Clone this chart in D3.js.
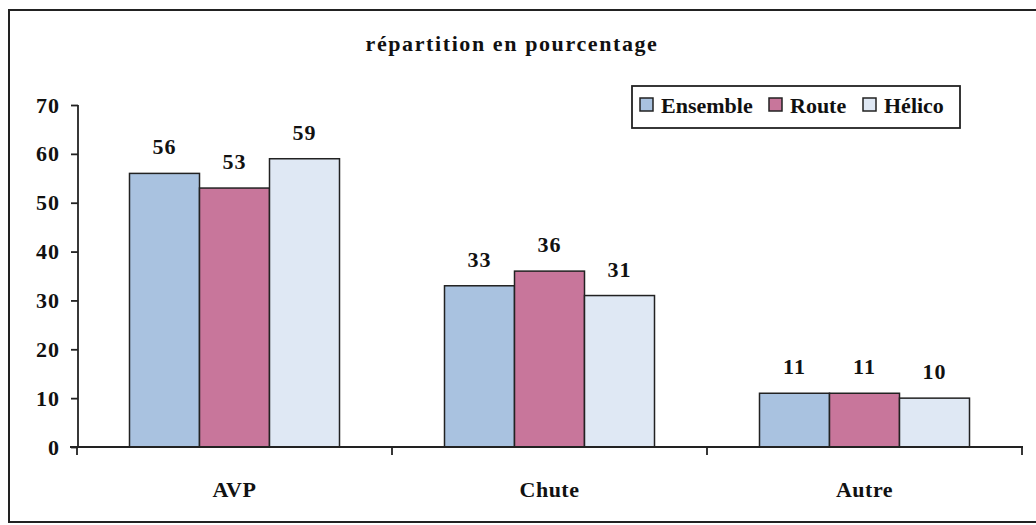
<!DOCTYPE html>
<html><head><meta charset="utf-8">
<script src="https://cdn.jsdelivr.net/npm/d3@7"></script>
<style>body{margin:0;background:#fff}svg{display:block}</style>
</head><body><svg id="c" width="1036" height="525"></svg>
<script>
const categories = ["AVP", "Chute", "Autre"];
const seriesNames = ["Ensemble", "Route", "Hélico"];
const ensemble = [56, 33, 11];
const route = [53, 36, 11];
const helico = [59, 31, 10];
const yTicks = [0, 10, 20, 30, 40, 50, 60, 70];
const colors = ["#a9c2e0", "#c8769b", "#dfe8f4"];
const title = "répartition en pourcentage";
const FONT = "Liberation Serif";

const svg = d3.select("#c");
function txt(sel) {
  return sel.attr("font-family", FONT).attr("font-weight", "bold").attr("fill", "#111");
}
// outer frame
svg.append("rect").attr("x", 9).attr("y", 10).attr("width", 1040).attr("height", 512)
  .attr("fill", "none").attr("stroke", "#222").attr("stroke-width", 2);

const x0 = d3.scaleBand().domain(categories).range([77, 1022]).paddingInner(0).paddingOuter(0);
const x1 = d3.scaleBand().domain(seriesNames).range([0, x0.bandwidth()]).paddingOuter(0.75).paddingInner(0);
const y = d3.scaleLinear().domain([0, 70]).range([447, 105]);

txt(svg.append("text")).attr("x", 512).attr("y", 51).attr("text-anchor", "middle")
  .attr("font-size", 22).attr("letter-spacing", "1.6px").text(title);

const data = [ensemble, route, helico];
categories.forEach((c, ci) => {
  const g = svg.append("g");
  seriesNames.forEach((s, si) => {
    const v = data[si][ci];
    g.append("rect").attr("x", x0(c) + x1(s)).attr("y", y(v))
      .attr("width", x1.bandwidth()).attr("height", y(0) - y(v))
      .attr("fill", colors[si]).attr("stroke", "#222").attr("stroke-width", 1.5);
    txt(g.append("text")).attr("x", x0(c) + x1(s) + x1.bandwidth() / 2).attr("y", y(v) - 19)
      .attr("text-anchor", "middle").attr("font-size", 22).attr("letter-spacing", "1px").text(v);
  });
});

// y axis
const ya = svg.append("g").attr("transform", "translate(78,0)")
  .call(d3.axisLeft(y).tickValues(yTicks).tickSize(7).tickPadding(11).tickFormat(d3.format("d")));
ya.attr("font-family", FONT).attr("font-size", 22).attr("font-weight", "bold");
ya.select(".domain").attr("stroke", "#222").attr("stroke-width", 1.8).attr("d", "M0,105V447");
ya.selectAll(".tick line").attr("stroke", "#222").attr("stroke-width", 1.8);
ya.selectAll(".tick text").attr("fill", "#111").attr("letter-spacing", "1px");

// x axis
const xa = svg.append("g").attr("transform", "translate(0,447)");
xa.append("line").attr("x1", 70).attr("x2", 1023).attr("y1", 0).attr("y2", 0).attr("stroke", "#222").attr("stroke-width", 1.8);
const edges = categories.map(c => x0(c)).concat([x0.range()[1]]);
edges.forEach(e => xa.append("line").attr("x1", e).attr("x2", e).attr("y1", 0).attr("y2", 8).attr("stroke", "#222").attr("stroke-width", 1.8));
categories.forEach(c => txt(xa.append("text")).attr("x", x0(c) + x0.bandwidth() / 2).attr("y", 50)
  .attr("text-anchor", "middle").attr("font-size", 22).attr("letter-spacing", "0.5px").text(c));

// legend
const lg = svg.append("g");
lg.append("rect").attr("x", 632).attr("y", 86).attr("width", 328).attr("height", 42)
  .attr("fill", "#fff").attr("stroke", "#222").attr("stroke-width", 1.8);
const legX = [640, 769, 863];
seriesNames.forEach((s, i) => {
  lg.append("rect").attr("x", legX[i]).attr("y", 98).attr("width", 13).attr("height", 13)
    .attr("fill", colors[i]).attr("stroke", "#222").attr("stroke-width", 1.5);
  txt(lg.append("text")).attr("x", legX[i] + 21).attr("y", 113).attr("font-size", 22).text(s);
});
</script></body></html>
